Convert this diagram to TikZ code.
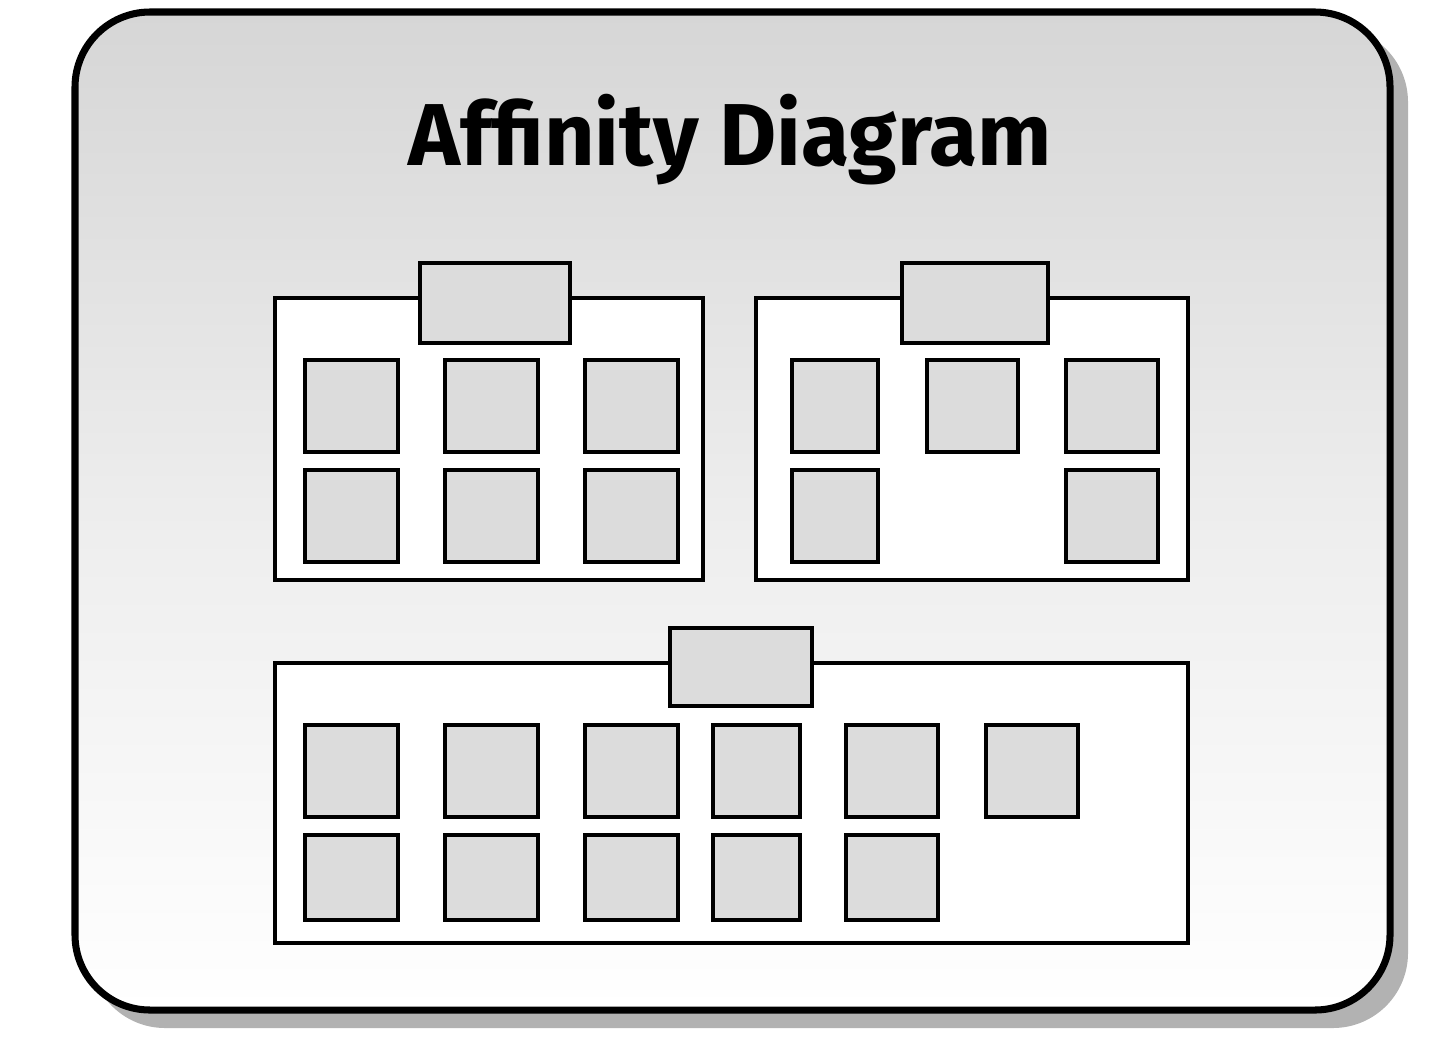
\documentclass[tikz,border=0pt]{standalone}
\usepackage{fontspec}
\setsansfont{Fira Sans}
\usetikzlibrary{positioning, shadings}
\definecolor{cardgray}{HTML}{DCDCDC}
\definecolor{topgray}{HTML}{D6D6D6}
\tikzset{
  cardbox/.style={draw=black, fill=cardgray, line width=1.1pt},
  groupbox/.style={draw=black, fill=white, line width=1.1pt},
  headbox/.style={draw=black, fill=cardgray, line width=1.1pt}
}
\begin{document}
\begin{tikzpicture}[x=0.01cm, y=-0.01cm]
	\useasboundingbox (0,0) rectangle (1440,1057);
	% Panel with shadow
	\fill[gray!60, rounded corners=0.75cm] (90,27) rectangle (1408,1028);
	\shade[top color=topgray, bottom color=white, middle color=white!93!black,
	  draw=black, line width=2pt, rounded corners=0.75cm] (75,12) rectangle (1390,1010);
	\node[font=\sffamily\bfseries\fontsize{25}{30}\selectfont] (title) at (730,140) {Affinity Diagram};
	% First group
	\draw[groupbox] (275,298) rectangle (703,580);
	\draw[headbox] (420,263) rectangle (570,343);
	\foreach \xa/\xb in {305/398, 445/538, 585/678}
	  \foreach \ya/\yb in {360/452, 470/562}
	    \draw[cardbox] (\xa,\ya) rectangle (\xb,\yb);
	% Second group
	\draw[groupbox] (756,298) rectangle (1188,580);
	\draw[headbox] (902,263) rectangle (1048,343);
	\foreach \xa/\xb in {792/878, 927/1018, 1066/1158}
	  \draw[cardbox] (\xa,360) rectangle (\xb,452);
	\foreach \xa/\xb in {792/878, 1066/1158}
	  \draw[cardbox] (\xa,470) rectangle (\xb,562);
	% Third group
	\draw[groupbox] (275,663) rectangle (1188,943);
	\draw[headbox] (670,628) rectangle (812,706);
	\foreach \xa/\xb in {305/398, 445/538, 585/678, 713/800, 846/938, 986/1078}
	  \draw[cardbox] (\xa,725) rectangle (\xb,817);
	\foreach \xa/\xb in {305/398, 445/538, 585/678, 713/800, 846/938}
	  \draw[cardbox] (\xa,835) rectangle (\xb,920);
\end{tikzpicture}
\end{document}
